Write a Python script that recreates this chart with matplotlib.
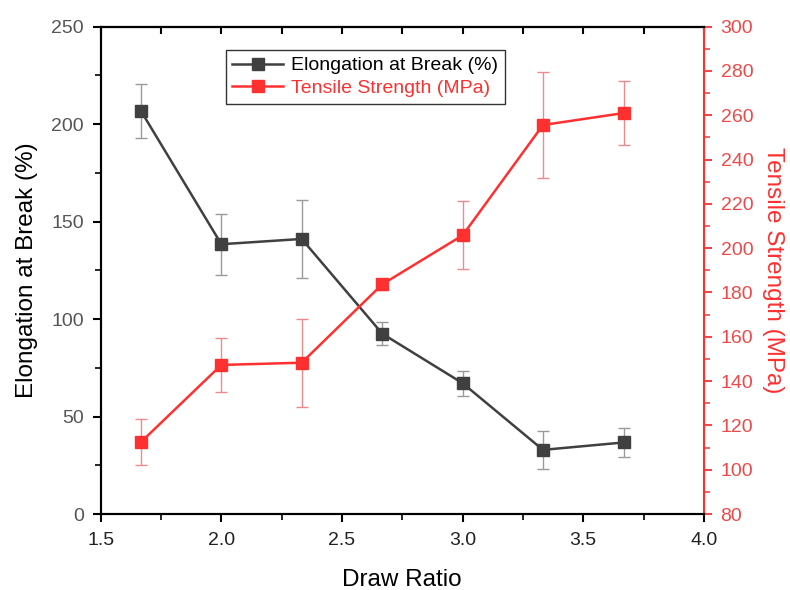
import matplotlib
matplotlib.use("Agg")
import matplotlib.pyplot as plt
from matplotlib.ticker import MultipleLocator

plt.rcParams['font.family'] = ['Liberation Sans', 'DejaVu Sans']

# 延伸比ごとの測定値
draw_ratio = [1.667, 2.0, 2.333, 2.667, 3.0, 3.333, 3.667]
elongation = [206.7, 138.4, 141.1, 92.5, 67.1, 32.9, 36.7]
elongation_err = [13.7, 15.6, 19.9, 6.0, 6.5, 9.8, 7.5]
tensile = [112.5, 147.3, 148.3, 183.7, 205.8, 255.6, 261.0]
tensile_err = [10.5, 12.0, 19.8, 2.5, 15.4, 24.0, 14.3]
series_labels = ["Elongation at Break (%)", "Tensile Strength (MPa)"]

dark = "#404040"
red = "#ff3030"

fig = plt.figure(figsize=(7.9, 5.9), dpi=100)
ax = fig.add_axes([0.1275, 0.1288, 0.7635, 0.826])
ax2 = ax.twinx()

l1 = ax.errorbar(draw_ratio, elongation, yerr=elongation_err, color=dark,
                 marker="s", markersize=8, linewidth=1.8, ecolor="#9a9a9a",
                 elinewidth=1.0, capsize=4, capthick=1.0)
l2 = ax2.errorbar(draw_ratio, tensile, yerr=tensile_err, color=red,
                  marker="s", markersize=8, linewidth=1.8, ecolor="#f08a8a",
                  elinewidth=1.0, capsize=4, capthick=1.0)

ax.set_xlim(1.5, 4.0)
ax.set_ylim(0, 250)
ax2.set_ylim(80, 300)

ax.xaxis.set_major_locator(MultipleLocator(0.5))
ax.xaxis.set_minor_locator(MultipleLocator(0.25))
ax.yaxis.set_major_locator(MultipleLocator(50))
ax.yaxis.set_minor_locator(MultipleLocator(25))
ax2.yaxis.set_major_locator(MultipleLocator(20))
ax2.yaxis.set_minor_locator(MultipleLocator(10))

ax.tick_params(axis="x", which="both", direction="out", labelsize=14,
               colors="black", labelcolor="#222222", pad=7)
ax.tick_params(axis="x", which="major", length=6, width=1.5)
ax.tick_params(axis="x", which="minor", length=4, width=1.2)
ax.tick_params(axis="y", which="both", direction="out", labelsize=14,
               labelcolor="#555555", pad=6)
ax.tick_params(axis="y", which="major", length=6, width=1.5)
ax.tick_params(axis="y", which="minor", length=4, width=1.2)
ax2.tick_params(axis="y", which="both", direction="out", colors="#f04848",
                labelsize=14, pad=6)
ax2.tick_params(axis="y", which="major", length=6, width=1.5)
ax2.tick_params(axis="y", which="minor", length=4, width=1.2)

# 上辺の目盛りは内向き
secx = ax.secondary_xaxis("top")
secx.xaxis.set_major_locator(MultipleLocator(0.25))
secx.tick_params(axis="x", which="both", direction="in", labeltop=False,
                 length=5, width=1.5)
ax.tick_params(axis="x", top=False)

for s in ["left", "bottom", "top"]:
    ax.spines[s].set_linewidth(1.5)
    ax2.spines[s].set_linewidth(1.5)
ax2.spines["right"].set_color(red)
ax2.spines["right"].set_linewidth(1.5)
secx.spines["top"].set_linewidth(1.5)

ax.set_xlabel("Draw Ratio", fontsize=17.5, labelpad=14)
ax.set_ylabel("Elongation at Break (%)", fontsize=17.5, labelpad=10)
ax2.set_ylabel("Tensile Strength (MPa)", fontsize=17.5, color=red, rotation=270,
               labelpad=22)

leg = ax.legend([l1[0], l2[0]], series_labels, loc="upper left",
                bbox_to_anchor=(0.207, 0.952),
                fontsize=14, frameon=True, fancybox=False, edgecolor="black",
                handlelength=2.6, borderpad=0.35, labelspacing=0.25,
                handletextpad=0.4, borderaxespad=0)
leg.get_frame().set_linewidth(1.0)
leg.get_texts()[1].set_color(red)

fig.savefig("out.png", dpi=100)
